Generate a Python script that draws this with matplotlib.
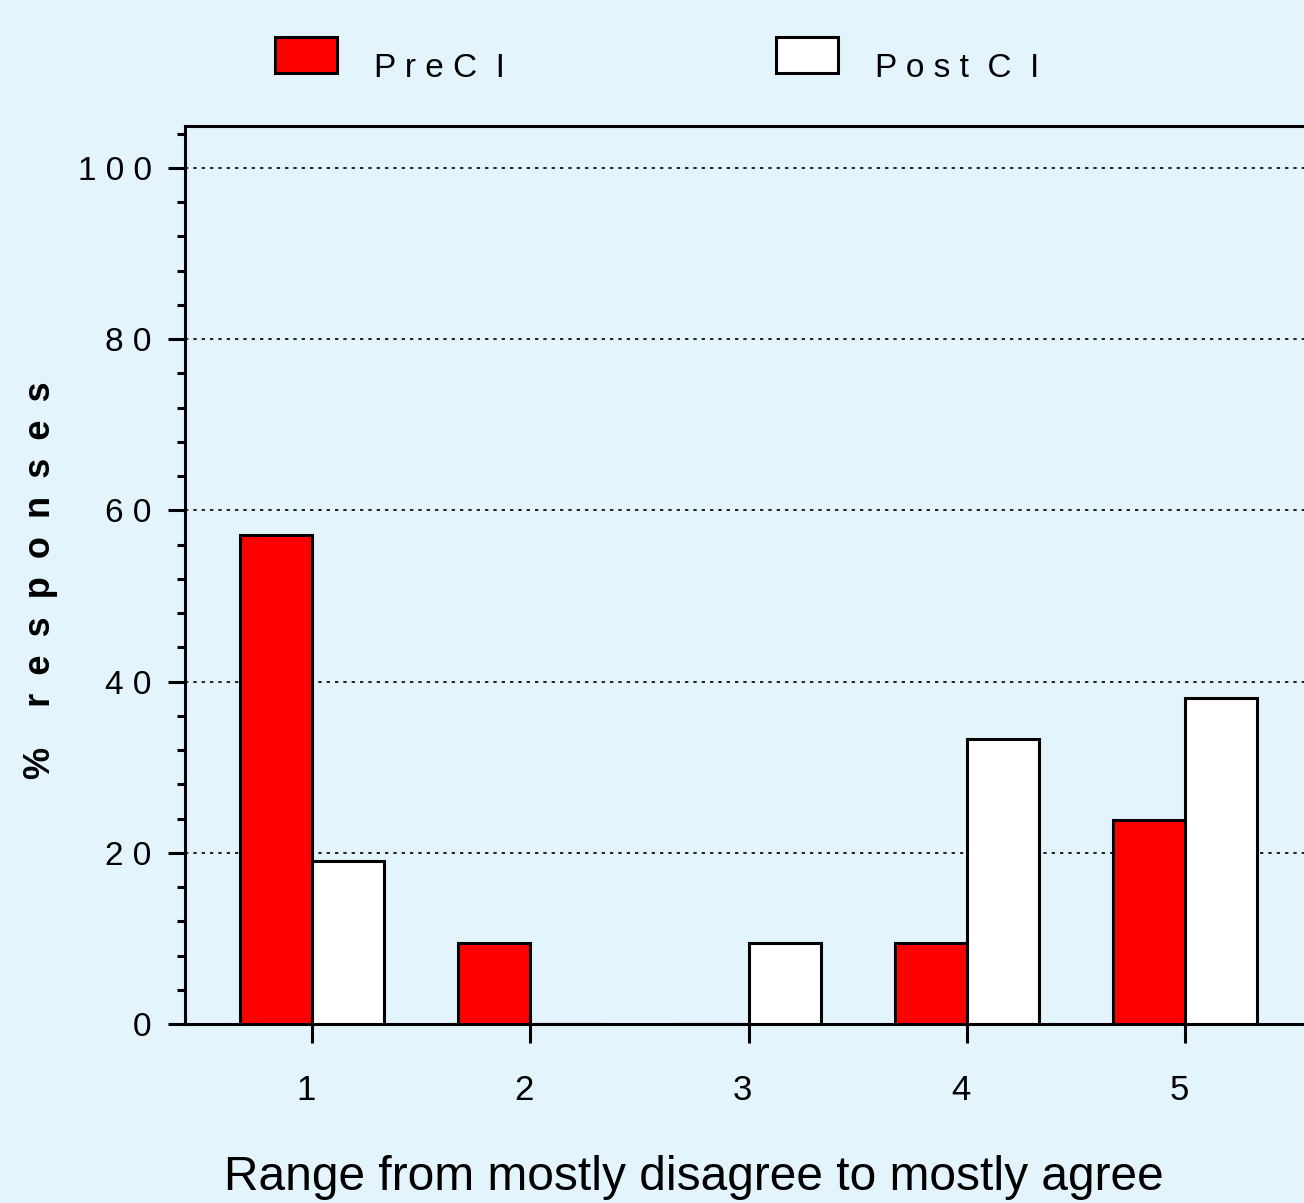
import matplotlib
matplotlib.use('Agg')
import matplotlib.pyplot as plt
from matplotlib.patches import Rectangle
from matplotlib.ticker import MultipleLocator, FixedLocator
import matplotlib.transforms as mtransforms

plt.rcParams['font.family'] = ['Liberation Sans Narrow', 'Liberation Sans', 'DejaVu Sans']

# odpowiedzi w % (n = 21)
kategorie = [1, 2, 3, 4, 5]
pre_ci = [57.1, 9.5, 0.0, 9.5, 23.8]
post_ci = [19.0, 0.0, 9.5, 33.3, 38.1]
etykiety_y = ['0', '2 0', '4 0', '6 0', '8 0', '1 0 0']
wartosci_y = [0, 20, 40, 60, 80, 100]

tlo = '#E3F4FD'
czerwony = '#FF0000'
szer = 0.33
W, H = 1304, 1203

fig = plt.figure(figsize=(W/100, H/100), dpi=100, facecolor=tlo)
ax = fig.add_axes([185/W, 1-1024/H, 1-185/W, (1024-126)/H])
ax.set_facecolor(tlo)

ax.bar([k - szer for k in kategorie], pre_ci, width=szer, align='edge',
       color=czerwony, edgecolor='black', linewidth=2.2, zorder=3)
ax.bar(kategorie, post_ci, width=szer, align='edge',
       color='white', edgecolor='black', linewidth=2.2, zorder=3)

ax.set_xlim(1 - 127/218.3, 1 + 992/218.3)
ax.set_ylim(0, 104.9)

ax.yaxis.set_major_locator(FixedLocator(wartosci_y))
ax.set_yticklabels(etykiety_y)
ax.yaxis.set_minor_locator(MultipleLocator(4))
ax.set_xticks(kategorie)
ax.set_xticklabels([str(k) for k in kategorie])

ax.tick_params(axis='y', which='major', direction='out', length=12, width=2.2,
               labelsize=24, pad=12)
ax.tick_params(axis='y', which='minor', direction='out', length=6, width=2.2)
ax.tick_params(axis='x', which='major', direction='out', length=14, width=2.2,
               labelsize=25, pad=22)
ax.tick_params(axis='x', which='minor', bottom=False)

przesun = mtransforms.ScaledTranslation(-6/100, 0, fig.dpi_scale_trans)
for lab in ax.get_xticklabels():
    lab.set_transform(lab.get_transform() + przesun)

for y in wartosci_y[1:]:
    ax.axhline(y, color='black', linestyle=(0, (2, 3)), linewidth=1.2, zorder=1)

for s in ['left', 'bottom', 'top']:
    ax.spines[s].set_linewidth(2.2)
ax.spines['right'].set_visible(False)

fig.text(694/W, 1-1177/H, 'Range from mostly disagree to mostly agree',
         ha='center', va='center', fontsize=34.5, family=['Liberation Sans', 'DejaVu Sans'])
podpis_y = '%    ' + '\u2002'.join('responses')
fig.text(41/W, 1-580/H, podpis_y, rotation=90,
         ha='center', va='center', fontsize=26, fontweight='bold',
         family=['Liberation Sans', 'DejaVu Sans'])

# legenda
for x0, kolor, tekst in [(275, czerwony, 'P r e C  I'), (776, 'white', 'P o s t  C  I')]:
    fig.patches.append(Rectangle((x0/W, 1-73/H), 62/W, 36/H, transform=fig.transFigure,
                                 facecolor=kolor, edgecolor='black', linewidth=2.2))
    fig.text((x0+99)/W, 1-77/H, tekst, ha='left', va='baseline', fontsize=24)

fig.savefig('out.png', dpi=100, facecolor=tlo)
